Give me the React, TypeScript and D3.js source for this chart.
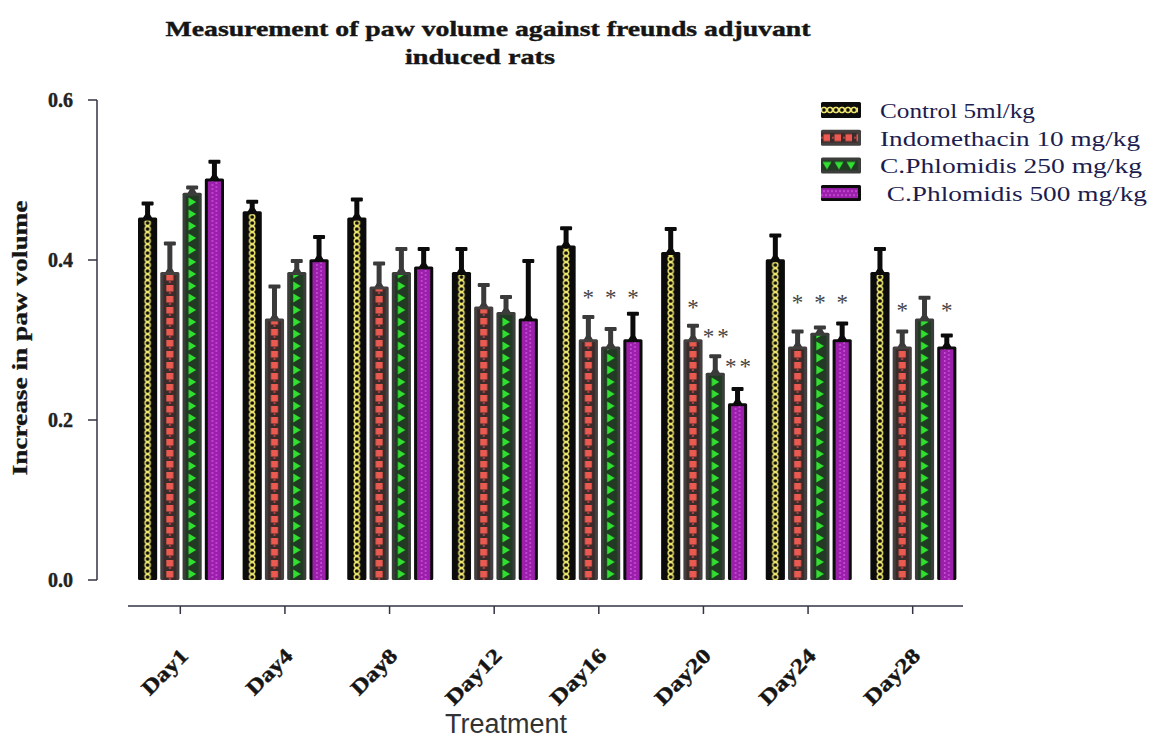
import { useEffect, useRef } from 'react';
import * as d3 from 'd3';

const days = ['Day1', 'Day4', 'Day8', 'Day12', 'Day16', 'Day20', 'Day24', 'Day28'];
const seriesNames = ['Control 5ml/kg', 'Indomethacin 10 mg/kg', 'C.Phlomidis 250 mg/kg', ' C.Phlomidis 500 mg/kg'];

const control = [0.453, 0.461, 0.453, 0.385, 0.418, 0.41, 0.401, 0.385];
const controlErr = [0.019, 0.013, 0.024, 0.03, 0.023, 0.03, 0.031, 0.03];
const indomethacin = [0.385, 0.327, 0.367, 0.342, 0.301, 0.301, 0.292, 0.292];
const indomethacinErr = [0.037, 0.041, 0.03, 0.028, 0.029, 0.018, 0.02, 0.02];
const phlomidis250 = [0.484, 0.385, 0.385, 0.335, 0.292, 0.259, 0.309, 0.327];
const phlomidis250Err = [0.008, 0.015, 0.03, 0.02, 0.023, 0.022, 0.008, 0.027];
const phlomidis500 = [0.502, 0.401, 0.392, 0.327, 0.301, 0.221, 0.301, 0.292];
const phlomidis500Err = [0.022, 0.029, 0.023, 0.073, 0.033, 0.019, 0.021, 0.015];

const yTicks = [0, 0.2, 0.4, 0.6];

// significance marks: day, series index, text, level (value units)
const stars: [string, number, string, number][] = [
  ['Day16', 1, '*', 0.357],
  ['Day16', 2, '*', 0.357],
  ['Day16', 3, '*', 0.357],
  ['Day20', 1, '*', 0.345],
  ['Day20', 2, '**', 0.309],
  ['Day20', 3, '**', 0.271],
  ['Day24', 1, '*', 0.351],
  ['Day24', 2, '*', 0.351],
  ['Day24', 3, '*', 0.351],
  ['Day28', 1, '*', 0.341],
  ['Day28', 3, '*', 0.341],
];

const seriesValues = [control, indomethacin, phlomidis250, phlomidis500];
const seriesErrors = [controlErr, indomethacinErr, phlomidis250Err, phlomidis500Err];

const frameColors = ['#0b0b0b', '#444040', '#3a3d3a', '#0b0b0b'];
const stemColors = ['#0b0b0b', '#3a3a3a', '#3a3a3a', '#0b0b0b'];

let patId = 0;

// fills a pattern tile (width w) with the series motif
function drawMotif(p: d3.Selection<SVGPatternElement, unknown, null, undefined>, s: number, w: number) {
  const c = w / 2;
  if (s === 0) {
    p.attr('height', 6);
    p.append('rect').attr('width', w).attr('height', 6).attr('fill', '#0b0b0b');
    p.append('circle').attr('cx', c).attr('cy', 3).attr('r', 2.6)
      .attr('fill', 'none').attr('stroke', '#ece46c').attr('stroke-width', 1.5);
    return;
  }
  if (s === 1) {
    p.attr('height', 11);
    p.append('rect').attr('width', w).attr('height', 11).attr('fill', '#3b2c2c');
    p.append('rect').attr('x', c - 3.5).attr('y', 2).attr('width', 7).attr('height', 6.5).attr('fill', '#ea5a50');
    p.append('rect').attr('x', c - 1).attr('y', 8.5).attr('width', 2).attr('height', 2.5).attr('fill', '#b04040');
    return;
  }
  if (s === 2) {
    p.attr('height', 12);
    p.append('rect').attr('width', w).attr('height', 12).attr('fill', '#223a24');
    p.append('path')
      .attr('d', `M${c - 3.5},1.5 L${c + 4},6 L${c - 3.5},10.5 Z`)
      .attr('fill', '#30e030');
    return;
  }
  p.attr('height', 4);
  p.append('rect').attr('width', w).attr('height', 4).attr('fill', '#9c1fab');
  p.append('circle').attr('cx', c - 2).attr('cy', 1).attr('r', 0.9).attr('fill', '#cc55dc');
  p.append('circle').attr('cx', c + 2).attr('cy', 3).attr('r', 0.9).attr('fill', '#cc55dc');
}

export default function App() {
  const ref = useRef<SVGSVGElement>(null);

  useEffect(() => {
    if (!ref.current) return;
    const svg = d3.select(ref.current);
    svg.selectAll('*').remove();
    const defs = svg.append('defs');

    const x0 = d3.scaleBand().domain(days).range([128, 965]).paddingInner(0).paddingOuter(0);
    const x1 = d3.scaleBand<number>().domain([0, 1, 2, 3]).range([10, 96]).paddingInner(0.14).paddingOuter(0);
    const y = d3.scaleLinear().domain([0, 0.6]).range([580, 100]);

    const serif = "'Liberation Serif', 'DejaVu Serif', serif";

    // title
    svg.append('text').attr('x', 488).attr('y', 36).attr('text-anchor', 'middle')
      .attr('font-family', serif).attr('font-weight', 'bold').attr('font-size', 21)
      .attr('fill', '#151515').attr('stroke', '#151515').attr('stroke-width', 0.4)
      .attr('textLength', 645).attr('lengthAdjust', 'spacingAndGlyphs')
      .text('Measurement of paw volume  against freunds adjuvant');
    svg.append('text').attr('x', 480).attr('y', 64).attr('text-anchor', 'middle')
      .attr('font-family', serif).attr('font-weight', 'bold').attr('font-size', 21)
      .attr('fill', '#151515').attr('stroke', '#151515').attr('stroke-width', 0.4)
      .attr('textLength', 150).attr('lengthAdjust', 'spacingAndGlyphs')
      .text('induced rats');

    // y axis
    const yAxis = svg.append('g');
    yAxis.append('line').attr('x1', 97).attr('x2', 97).attr('y1', y(0.6)).attr('y2', y(0))
      .attr('stroke', '#333344').attr('stroke-width', 1.5);
    yAxis.selectAll('line.tick').data(yTicks).enter().append('line').attr('class', 'tick')
      .attr('x1', 88).attr('x2', 97).attr('y1', (d) => y(d)).attr('y2', (d) => y(d))
      .attr('stroke', '#333344').attr('stroke-width', 1.5);
    yAxis.selectAll('text').data(yTicks).enter().append('text')
      .attr('x', 73).attr('y', (d) => y(d) + 7).attr('text-anchor', 'end')
      .attr('font-family', serif).attr('font-weight', 'bold').attr('font-size', 20)
      .attr('fill', '#222').attr('stroke', '#222').attr('stroke-width', 0.4)
      .text((d) => d.toFixed(1));

    svg.append('text').attr('transform', 'translate(27,338) rotate(-90)').attr('text-anchor', 'middle')
      .attr('font-family', serif).attr('font-weight', 'bold').attr('font-size', 20)
      .attr('fill', '#151515').attr('stroke', '#151515').attr('stroke-width', 0.3)
      .attr('textLength', 275).attr('lengthAdjust', 'spacingAndGlyphs')
      .text('Increase in paw volume');

    // x axis
    const xAxis = svg.append('g');
    xAxis.append('line').attr('x1', 128).attr('x2', 963).attr('y1', 606).attr('y2', 606)
      .attr('stroke', '#333344').attr('stroke-width', 1.5);
    xAxis.selectAll('line.tick').data(days).enter().append('line').attr('class', 'tick')
      .attr('x1', (d) => (x0(d) ?? 0) + x0.bandwidth() / 2)
      .attr('x2', (d) => (x0(d) ?? 0) + x0.bandwidth() / 2)
      .attr('y1', 606).attr('y2', 614).attr('stroke', '#333344').attr('stroke-width', 1.5);
    xAxis.selectAll('text').data(days).enter().append('text')
      .attr('transform', (d) => `translate(${(x0(d) ?? 0) + x0.bandwidth() / 2 + 9},657) rotate(-45)`)
      .attr('text-anchor', 'end')
      .attr('font-family', serif).attr('font-weight', 'bold').attr('font-size', 21)
      .attr('fill', '#151515').attr('stroke', '#151515').attr('stroke-width', 0.4)
      .attr('textLength', (d) => d.length * 14).attr('lengthAdjust', 'spacingAndGlyphs')
      .text((d) => d);

    svg.append('text').attr('x', 506).attr('y', 733).attr('text-anchor', 'middle')
      .attr('font-family', "'Liberation Sans', Arial, sans-serif").attr('font-size', 27)
      .attr('fill', '#333').text('Treatment');

    // one syringe-like bar
    const drawBar = (
      g: d3.Selection<SVGGElement, unknown, null, undefined>,
      s: number, bx: number, bw: number, top: number, bottom: number,
    ) => {
      const inset = 3;
      g.append('rect').attr('x', bx).attr('y', top).attr('width', bw).attr('height', bottom - top)
        .attr('rx', 1.5).attr('fill', frameColors[s]);
      const iw = bw - inset * 2;
      const id = `pat${patId++}`;
      const p = defs.append('pattern').attr('id', id).attr('patternUnits', 'userSpaceOnUse')
        .attr('x', bx + inset).attr('y', bottom).attr('width', iw);
      drawMotif(p, s, iw);
      g.append('rect').attr('x', bx + inset).attr('y', top + inset).attr('width', iw)
        .attr('height', Math.max(0, bottom - top - inset)).attr('fill', `url(#${id})`);
    };

    // bars
    const bars = svg.append('g');
    days.forEach((day, di) => {
      seriesValues.forEach((vals, s) => {
        const bx = (x0(day) ?? 0) + (x1(s) ?? 0);
        const bw = x1.bandwidth();
        const cx = bx + bw / 2;
        const top = y(vals[di]);
        const cap = y(vals[di] + seriesErrors[s][di]);
        const g = bars.append('g');
        // error bar: stem + cap + shoulder
        g.append('rect').attr('x', cx - 2.5).attr('y', cap).attr('width', 5).attr('height', top - cap)
          .attr('fill', stemColors[s]);
        g.append('rect').attr('x', cx - 6).attr('y', cap - 1).attr('width', 12).attr('height', 4)
          .attr('rx', 1).attr('fill', stemColors[s]);
        g.append('path')
          .attr('d', `M${cx - 2.5},${top - 3} L${cx + 2.5},${top - 3} L${cx + 5},${top + 1} L${cx - 5},${top + 1} Z`)
          .attr('fill', stemColors[s]);
        drawBar(g, s, bx, bw, top, y(0));
      });
    });

    // significance stars
    svg.append('g').selectAll('text').data(stars).enter().append('text')
      .attr('x', (d) => (x0(d[0]) ?? 0) + (x1(d[1]) ?? 0) + x1.bandwidth() / 2 + (d[2].length > 1 ? 2 : 0))
      .attr('y', (d) => y(d[3]) + 11)
      .attr('text-anchor', 'middle')
      .attr('font-family', serif).attr('font-size', 23).attr('fill', '#444')
      .attr('letter-spacing', (d) => (d[2].length > 1 ? 3 : 0))
      .text((d) => d[2]);

    // legend
    const legend = svg.append('g');
    seriesNames.forEach((name, s) => {
      const cy = 110 + s * 27.7;
      const g = legend.append('g').attr('transform', `translate(841,${cy}) rotate(90) translate(-8,-20)`);
      drawBar(g, s, 0, 16, 0, 40);
      legend.append('text').attr('x', 880).attr('y', cy + 8)
        .attr('font-family', serif).attr('font-size', 20).attr('fill', '#1c1c4e')
        .attr('xml:space', 'preserve').style('white-space', 'pre')
        .attr('textLength', [155, 260, 262, 267][s]).attr('lengthAdjust', 'spacingAndGlyphs')
        .text(name);
    });
  }, []);

  return (
    <svg
      ref={ref}
      width={1153}
      height={740}
      style={{ position: 'absolute', left: 0, top: 0, background: '#fff' }}
    />
  );
}
